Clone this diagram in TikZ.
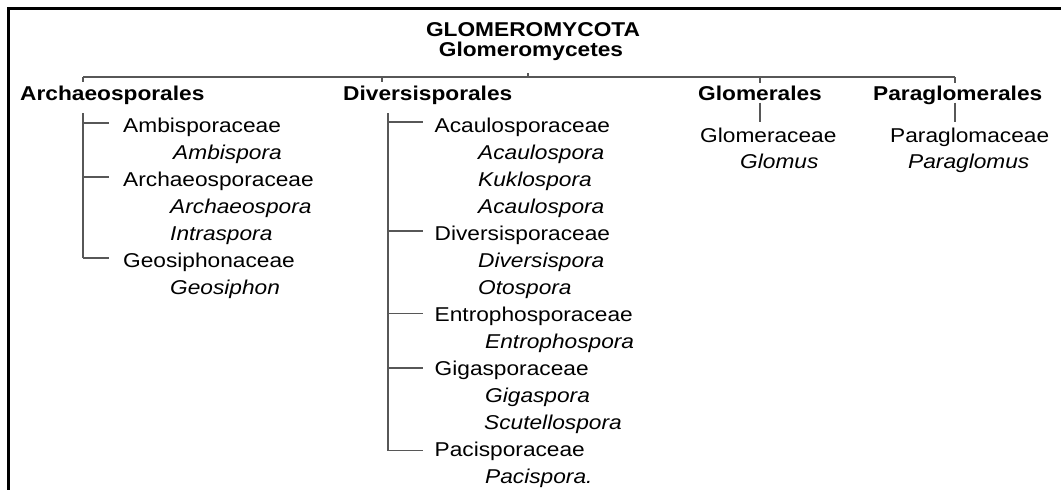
\documentclass[tikz,border=0pt]{standalone}
\usepackage{fontspec}
\setmainfont{Liberation Sans}[FakeStretch=1.135]
\begin{document}
\begin{tikzpicture}[x=1pt,y=-1pt,
  txt/.style={inner sep=0pt, anchor=base west, font=\fontsize{20}{24}\selectfont, text=black},
  fam/.style={txt},
  gen/.style={txt, font=\fontsize{20}{24}\selectfont\itshape},
  ord/.style={txt, font=\fontsize{20}{24}\selectfont\bfseries, text height=14pt, text depth=0pt, inner ysep=2.5pt},
  ttl/.style={inner sep=0pt, anchor=base, font=\fontsize{20}{24}\selectfont\bfseries, text=black},
  tree/.style={draw=black!66, line width=1.8pt},
  frame/.style={draw=black, line width=2.7pt, line join=miter}]
\fill[white] (0,0) rectangle (1061,490);
\useasboundingbox (0,0) rectangle (1061,490);
\draw[frame] (1061,8.5) -- (8.5,8.5) -- (8.5,490);

% title
\node[ttl] (phy) at (533,36) {GLOMEROMYCOTA};
\node[ttl] (cls) at (531,56.5) {Glomeromycetes};

% orders
\node[ord] (arch) at (20,100) {Archaeosporales};
\node[ord] (div) at (343,100) {Diversisporales};
\node[ord] (glo) at (698,100) {Glomerales};
\node[ord] (par) at (873,100) {Paraglomerales};

% Archaeosporales column
\node[fam] (ambf) at (123,132) {Ambisporaceae};
\node[gen] (ambg) at (173,159) {Ambispora};
\node[fam] (arcf) at (123,186) {Archaeosporaceae};
\node[gen] (arcg) at (170,213) {Archaeospora};
\node[gen] (intg) at (170,240) {Intraspora};
\node[fam] (geof) at (123,267) {Geosiphonaceae};
\node[gen] (geog) at (170,294) {Geosiphon};

% Diversisporales column
\node[fam] (acaf) at (434.5,132.5) {Acaulosporaceae};
\node[gen] (acag1) at (478,159.5) {Acaulospora};
\node[gen] (kukg) at (478,186.5) {Kuklospora};
\node[gen] (acag2) at (478,213.5) {Acaulospora};
\node[fam] (divf) at (434.5,240.5) {Diversisporaceae};
\node[gen] (divg) at (478,267.5) {Diversispora};
\node[gen] (otog) at (478,294.5) {Otospora};
\node[fam] (entf) at (434.5,321.5) {Entrophosporaceae};
\node[gen] (entg) at (485,348.5) {Entrophospora};
\node[fam] (gigf) at (434.5,375.5) {Gigasporaceae};
\node[gen] (gigg) at (485,402.5) {Gigaspora};
\node[gen] (scug) at (484,429.5) {Scutellospora};
\node[fam] (pacf) at (434.5,456.5) {Pacisporaceae};
\node[gen] (pacg) at (485,483.5) {Pacispora.};

% Glomerales / Paraglomerales
\node[fam] (glof) at (700,142) {Glomeraceae};
\node[gen] (glog) at (740,168) {Glomus};
\node[fam] (parf) at (890,142) {Paraglomaceae};
\node[gen] (parg) at (908,168) {Paraglomus};

% junctions
\coordinate (j1) at (83,77);
\coordinate (j2) at (382,77);
\coordinate (jc) at (528,77);
\coordinate (j3) at (760,77);
\coordinate (j4) at (955,77);

\draw[tree] (j1) -- (j4);
\draw[tree] (j1) -- ++(0,5);
\draw[tree] (j2) -- ++(0,5);
\draw[tree] (jc) -- ++(0,-4);
\draw[tree] (j3) -- (glo.north -| j3);
\draw[tree, shorten >=5.5pt] (glo.south -| j3) -- (glof.north -| j3);
\draw[tree] (j4) -- (par.north -| j4);
\draw[tree, shorten >=5.5pt] (par.south -| j4) -- (parf.north -| j4);

% Archaeosporales tree
\coordinate (lt) at (83,113);
\coordinate (lb0) at (83,122.7);
\coordinate (lb1) at (83,176.7);
\coordinate (lb2) at (83,257.7);
\draw[tree] (lt) -- (lb2);
\draw[tree, shorten >=14pt] (lb0) -- (lb0 -| ambf.west);
\draw[tree, shorten >=14pt] (lb1) -- (lb1 -| arcf.west);
\draw[tree, shorten >=14pt] (lb2) -- (lb2 -| geof.west);

% Diversisporales tree
\coordinate (rt) at (388,113);
\coordinate (rb0) at (388,121.7);
\coordinate (rb1) at (388,231.3);
\coordinate (rb2) at (388,313.5);
\coordinate (rb3) at (388,368.3);
\coordinate (rb4) at (388,450.5);
\draw[tree] (rt) -- (rb4);
\draw[tree, shorten >=11.5pt] (rb0) -- (rb0 -| acaf.west);
\draw[tree, shorten >=11.5pt] (rb1) -- (rb1 -| divf.west);
\draw[tree, shorten >=11.5pt] (rb2) -- (rb2 -| entf.west);
\draw[tree, shorten >=11.5pt] (rb3) -- (rb3 -| gigf.west);
\draw[tree, shorten >=11.5pt] (rb4) -- (rb4 -| pacf.west);
\end{tikzpicture}
\end{document}
